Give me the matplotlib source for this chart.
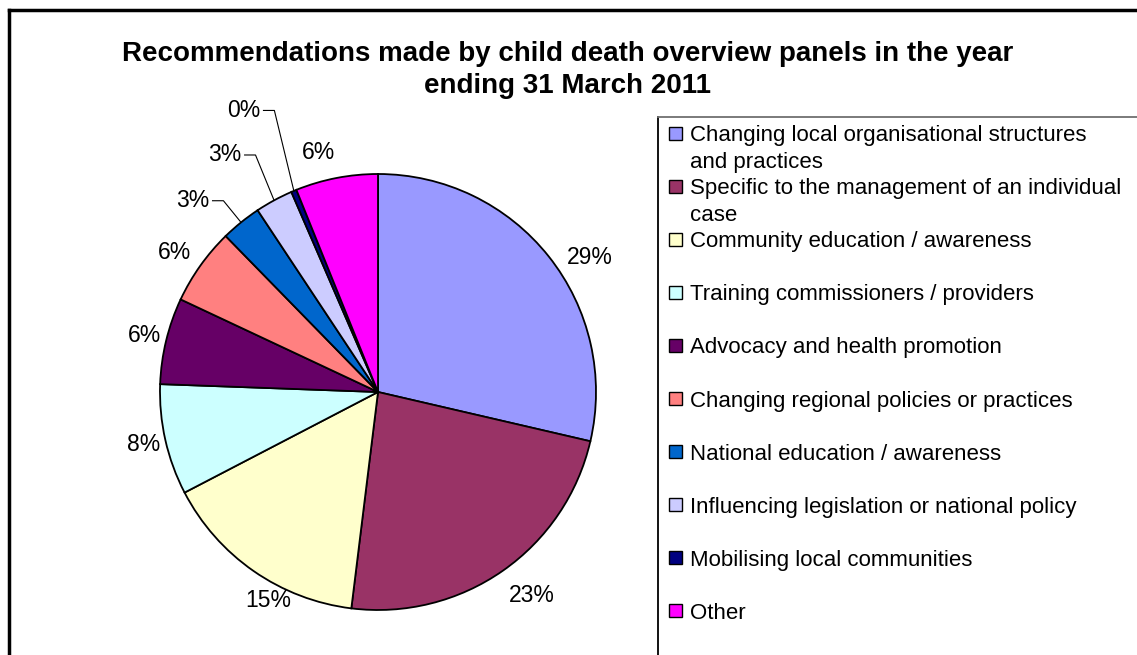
import matplotlib
matplotlib.use('Agg')
import matplotlib.pyplot as plt
import matplotlib.transforms as mtransforms
from matplotlib.patches import Rectangle
from matplotlib.lines import Line2D
import numpy as np

plt.rcParams['font.family'] = ['Liberation Sans', 'DejaVu Sans']

title = "Recommendations made by child death overview panels in the year\nending 31 March 2011"

categories = [
    "Changing local organisational structures\nand practices",
    "Specific to the management of an individual\ncase",
    "Community education / awareness",
    "Training commissioners / providers",
    "Advocacy and health promotion",
    "Changing regional policies or practices",
    "National education / awareness",
    "Influencing legislation or national policy",
    "Mobilising local communities",
    "Other",
]
shares = [28.6, 23.3, 15.4, 8.2, 6.4, 5.7, 3.0, 2.8, 0.4, 6.1]
colors = ["#9999FF", "#993366", "#FFFFCC", "#CCFFFF", "#660066",
          "#FF8080", "#0066CC", "#CCCCFF", "#000080", "#FF00FF"]

# label placement: (radius, angle offset in degrees, leader line?)
label_layout = [(1.15, -6, False), (1.17, 2, False), (1.08, 7, False),
                (1.1, 0, False), (1.1, 0, False), (1.13, 1, False),
                (1.17, 2.5, True), (1.255, 1.5, True), (1.40, 0, True),
                (1.13, 3, False)]

W, H = 1137, 655
fig = plt.figure(figsize=(W / 100, H / 100), dpi=100)
# pixel coordinates, origin top-left
px = mtransforms.Affine2D().scale(1 / W, -1 / H).translate(0, 1) + fig.transFigure

# outer frame
fig.add_artist(Line2D([9, W + 5], [10, 10], transform=px, color='black', lw=2.5))
fig.add_artist(Line2D([9, 9], [10, H + 5], transform=px, color='black', lw=2.5))

fig.text(568, 70, title, transform=px, ha='center', va='center',
         fontsize=20, fontweight='bold', linespacing=1.3)

# pie
cx, cy, R = 378, 392, 218
ax = fig.add_axes([(cx - R) / W, (H - cy - R) / H, 2 * R / W, 2 * R / H])
wedges, _ = ax.pie(shares, colors=colors, startangle=90, counterclock=False,
                   wedgeprops=dict(edgecolor='black', linewidth=1.3))
ax.set_xlim(-1, 1)
ax.set_ylim(-1, 1)

total = sum(shares)
for w, v, (r, dth, leader) in zip(wedges, shares, label_layout):
    mid = np.deg2rad((w.theta1 + w.theta2) / 2)
    ang = mid + np.deg2rad(dth)
    tx, ty = r * np.cos(ang), r * np.sin(ang)
    txt = f"{v / total * 100:.0f}%"
    if leader:
        ax.text(tx, ty, txt, ha='right', va='center', fontsize=16.5, clip_on=False)
        ex, ey = np.cos(mid), np.sin(mid)
        ax.plot([tx + 0.015, tx + 0.065, ex], [ty, ty, ey], color='black',
                lw=0.8, clip_on=False)
    else:
        ax.text(tx, ty, txt, ha='center', va='center', fontsize=16.5, clip_on=False)

# legend box
fig.add_artist(Line2D([657.5, 657.5], [117, H + 5], transform=px, color='black', lw=1.3))
fig.add_artist(Line2D([657.5, W + 5], [117, 117], transform=px, color='#707070', lw=1.3))
for i, (cat, col) in enumerate(zip(categories, colors)):
    y = 133 + 53.1 * i
    fig.add_artist(Rectangle((669, y - 6.5), 13, 13, transform=px,
                             facecolor=col, edgecolor='black', lw=1))
    for k, line in enumerate(cat.split('\n')):
        fig.text(690, y + 8 + 27 * k, line, transform=px, ha='left',
                 va='baseline', fontsize=16)

fig.savefig('out.png', dpi=100)
